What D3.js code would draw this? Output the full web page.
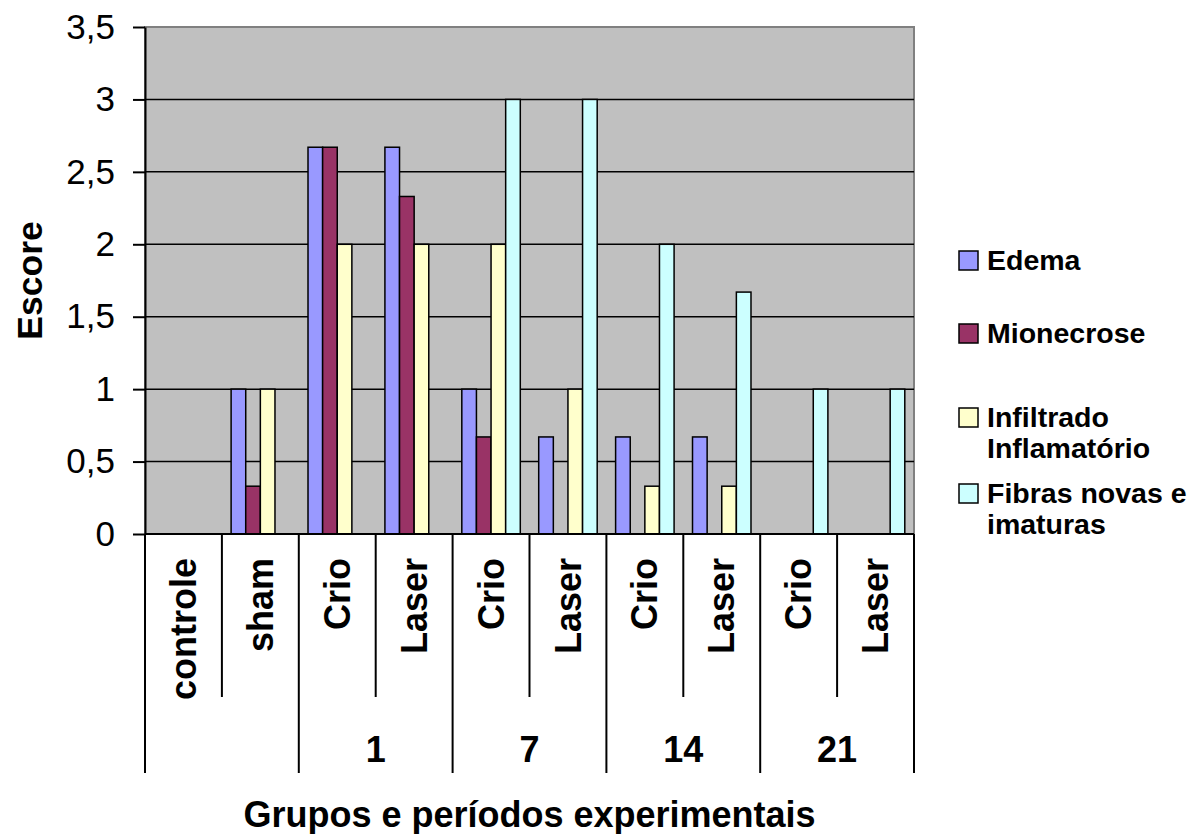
<!DOCTYPE html>
<html>
<head>
<meta charset="utf-8">
<script src="https://cdn.jsdelivr.net/npm/d3@7"></script>
<style>
  body { margin: 0; background: #fff; }
  text { font-family: "Liberation Sans", Arial, sans-serif; fill: #000; }
</style>
</head>
<body>
<div id="chart"></div>
<script>
/* Escore histológico por grupo e período experimental */

const categories = ["controle", "sham", "Crio", "Laser", "Crio", "Laser", "Crio", "Laser", "Crio", "Laser"];
const periods = ["1", "7", "14", "21"];       // each period covers a Crio/Laser pair
const periodFirst = [2, 4, 6, 8];              // index of first category of each period
const seriesNames = ["Edema", "Mionecrose", "Infiltrado Inflamatório", "Fibras novas e imaturas"];
const legendLines = [["Edema"], ["Mionecrose"], ["Infiltrado", "Inflamatório"], ["Fibras novas e", "imaturas"]];
const colors = ["#9999ff", "#993366", "#ffffcc", "#ccffff"];

const edema      = [0, 1,    2.67, 2.67, 1,    0.67, 0.67, 0.67, 0, 0];
const mionecrose = [0, 0.33, 2.67, 2.33, 0.67, 0,    0,    0,    0, 0];
const infiltrado = [0, 1,    2,    2,    2,    1,    0.33, 0.33, 0, 0];
const fibras     = [0, 0,    0,    0,    3,    3,    2,    1.67, 1, 1];
const yTicks = [0, 0.5, 1, 1.5, 2, 2.5, 3, 3.5];

const values = [edema, mionecrose, infiltrado, fibras];

const width = 1190,
      height = 834,
      margin = ({top: 27, right: 276, bottom: 300, left: 145}); // plot box 145..914 x 27..534

const svg = d3.select("#chart")
    .append("svg")
    .attr("width", width)
    .attr("height", height)
    .attr("viewBox", [0, 0, width, height]);

const x0 = d3.scaleBand()
    .domain(d3.range(categories.length))
    .range([margin.left, width - margin.right]);

const x1 = d3.scaleBand()
    .domain(d3.range(seriesNames.length))
    .range([0, x0.bandwidth()])
    .paddingOuter(0.63);

const y = d3.scaleLinear()
    .domain([0, 3.5])
    .range([height - margin.bottom, margin.top]);

const plotL = margin.left, plotR = width - margin.right;
const plotT = y(3.5), plotB = y(0);

// plot background
svg.append("rect")
    .attr("x", plotL).attr("y", plotT)
    .attr("width", plotR - plotL).attr("height", plotB - plotT)
    .attr("fill", "#c0c0c0")
    .attr("stroke", "#808080")
    .attr("stroke-width", 2);

// gridlines
svg.append("g")
    .selectAll("line")
    .data(yTicks.filter(d => d > 0 && d < 3.5))
    .join("line")
    .attr("x1", plotL).attr("x2", plotR)
    .attr("y1", d => y(d)).attr("y2", d => y(d))
    .attr("stroke", "#000")
    .attr("stroke-width", 1.5);

// bars
const cells = [];
values.forEach((arr, s) => arr.forEach((v, i) => { if (v > 0) cells.push({s, i, v}); }));

svg.append("g")
    .selectAll("rect")
    .data(cells)
    .join("rect")
    .attr("x", d => x0(d.i) + x1(d.s))
    .attr("width", x1.bandwidth())
    .attr("y", d => y(d.v))
    .attr("height", d => y(0) - y(d.v))
    .attr("fill", d => colors[d.s])
    .attr("stroke", "#000")
    .attr("stroke-width", 1.5);

// y axis
const yAxis = g => g
    .attr("transform", `translate(${plotL},0)`)
    .call(d3.axisLeft(y).tickValues(yTicks).tickSize(12).tickSizeOuter(0).tickPadding(18)
        .tickFormat(d => String(d).replace(".", ",")))
    .call(g => g.select(".domain").attr("stroke", "#000").attr("stroke-width", 2))
    .call(g => g.selectAll(".tick line").attr("stroke", "#000").attr("stroke-width", 2))
    .call(g => g.selectAll(".tick text").attr("font-size", 35).attr("fill", "#000")
        .style("font-family", "'Liberation Sans', Arial, sans-serif"));

svg.append("g").call(yAxis);

// x axis line
svg.append("line")
    .attr("x1", plotL).attr("x2", plotR)
    .attr("y1", plotB).attr("y2", plotB)
    .attr("stroke", "#000").attr("stroke-width", 2);

// category separators below the plot
const longBottom = 773, shortBottom = 697;
const seps = d3.range(categories.length + 1).map(i => ({
    x: i < categories.length ? x0(i) : x0(categories.length - 1) + x0.bandwidth(),
    long: i === 0 || i === categories.length || periodFirst.includes(i)
}));

svg.append("g")
    .selectAll("line")
    .data(seps)
    .join("line")
    .attr("x1", d => d.x).attr("x2", d => d.x)
    .attr("y1", plotB)
    .attr("y2", d => d.long ? longBottom : shortBottom)
    .attr("stroke", "#000").attr("stroke-width", 2);

// category labels (rotated)
svg.append("g")
    .selectAll("text")
    .data(categories)
    .join("text")
    .attr("transform", (d, i) => `translate(${x0(i) + x0.bandwidth() / 2},558) rotate(-90)`)
    .attr("dy", "0.35em")
    .attr("text-anchor", "end")
    .attr("font-size", 36)
    .attr("font-weight", "bold")
    .text(d => d);

// period labels
svg.append("g")
    .selectAll("text")
    .data(periods)
    .join("text")
    .attr("x", (d, k) => x0(periodFirst[k]) + x0.bandwidth())
    .attr("y", 762)
    .attr("text-anchor", "middle")
    .attr("font-size", 36)
    .attr("font-weight", "bold")
    .text(d => d);

// axis titles
svg.append("text")
    .attr("x", (plotL + plotR) / 2)
    .attr("y", 827)
    .attr("text-anchor", "middle")
    .attr("font-size", 36)
    .attr("font-weight", "bold")
    .text("Grupos e períodos experimentais");

svg.append("text")
    .attr("transform", `translate(42,${(plotT + plotB) / 2}) rotate(-90)`)
    .attr("text-anchor", "middle")
    .attr("font-size", 35.5)
    .attr("font-weight", "bold")
    .text("Escore");

// legend
const legendY = [270, 343, 427, 503];
const legend = svg.append("g")
    .selectAll("g")
    .data(legendLines)
    .join("g")
    .attr("transform", (d, i) => `translate(959,${legendY[i]})`);

legend.append("rect")
    .attr("x", 0).attr("y", -19)
    .attr("width", 19).attr("height", 19)
    .attr("fill", (d, i) => colors[i])
    .attr("stroke", "#000")
    .attr("stroke-width", 1.5);

legend.append("text")
    .attr("x", 28)
    .attr("font-size", 28.5)
    .attr("font-weight", "bold")
    .selectAll("tspan")
    .data(d => d)
    .join("tspan")
    .attr("x", 28)
    .attr("dy", (d, j) => j === 0 ? 0 : 31)
    .text(d => d);
</script>
</body>
</html>
